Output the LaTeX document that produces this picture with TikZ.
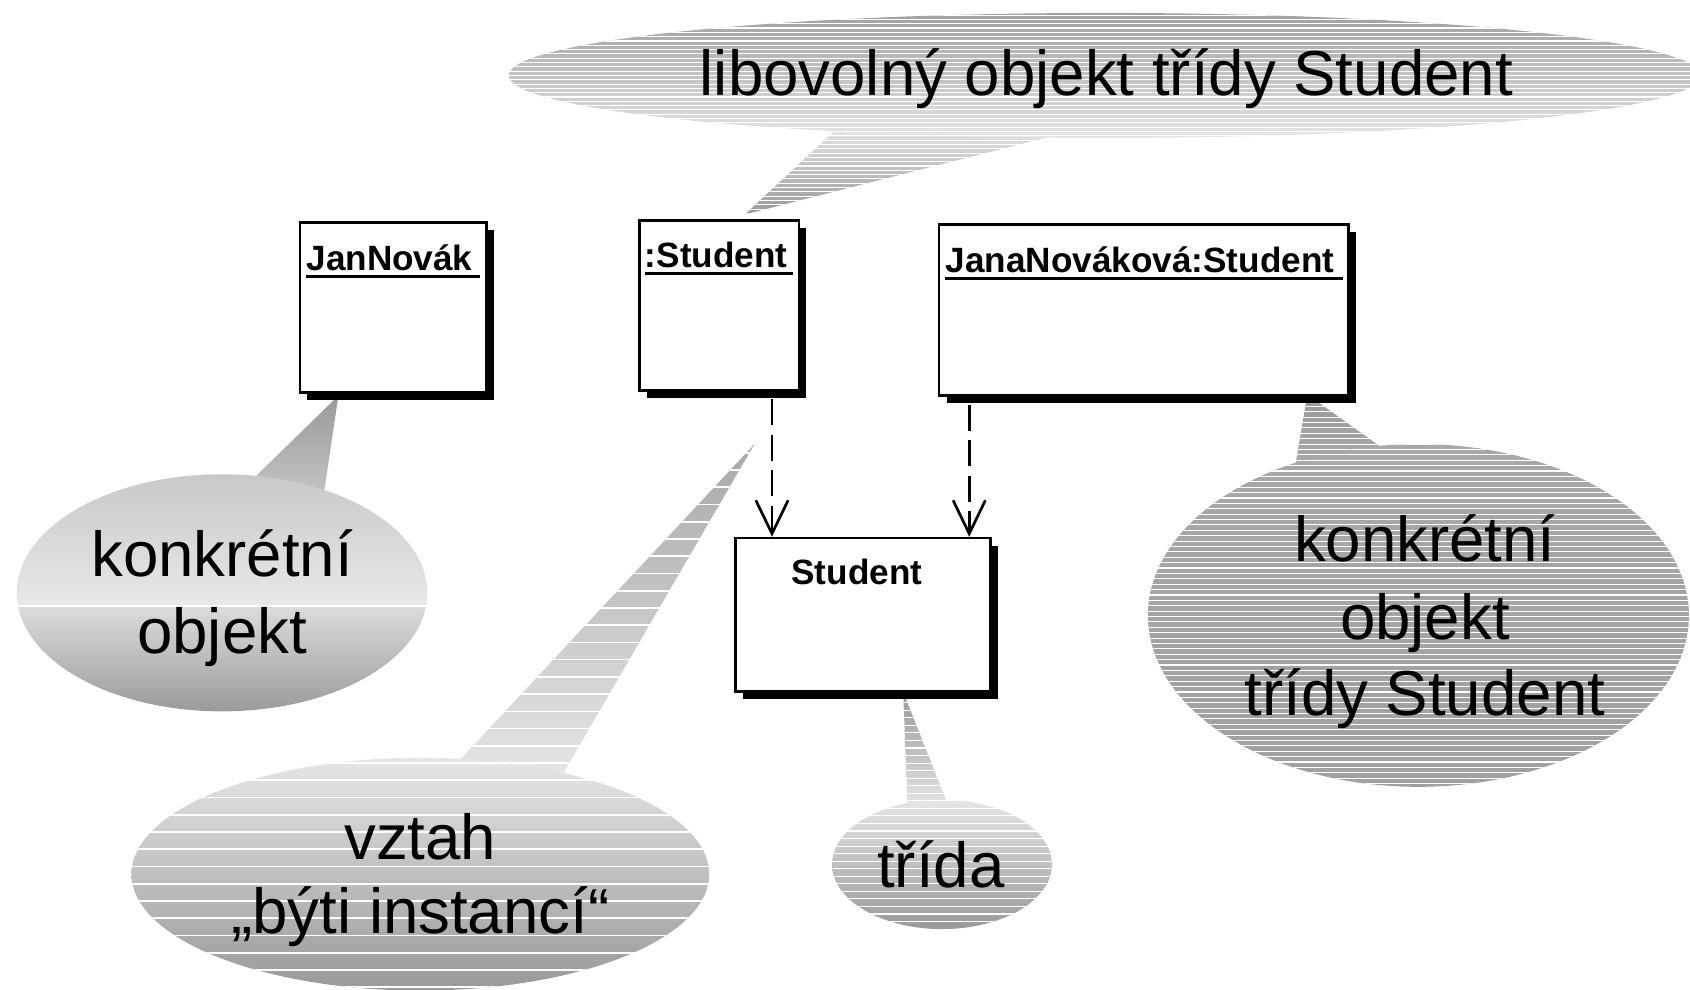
\documentclass[tikz,border=0pt]{standalone}
\usepackage{fontspec}
\setmainfont{Liberation Sans}
\usetikzlibrary{arrows.meta,shadows,calc}
\definecolor{cA}{HTML}{A0A0A0}
\definecolor{cL}{HTML}{E6E6E6}
\definecolor{cD}{HTML}{999999}
\definecolor{cM}{HTML}{C8C8C8}
\definecolor{cT}{HTML}{C4C4C4}
\definecolor{cP}{HTML}{DCDCDC}
\definecolor{cQ}{HTML}{E8E8E8}
\definecolor{cR}{HTML}{ABABAB}
\definecolor{cS}{HTML}{A8A8A8}
\begin{document}
\begin{tikzpicture}[x=0.5pt,y=-0.5pt,
  umlbox/.style={draw=black, line width=1.25pt, fill=white, inner sep=0pt, anchor=north west,
    drop shadow={shadow xshift=3.5pt, shadow yshift=-3.5pt, fill=black, opacity=1}},
  umltext/.style={font=\fontsize{16.3}{19}\selectfont\bfseries, inner sep=0pt},
  uline/.style={line width=1.25pt},
  bigtext/.style={font=\fontsize{29.5}{35.5}\selectfont, inner sep=0pt, anchor=base},
  stripe/.style={white, line width=0.5pt},
  inst/.style={dash pattern=on 12pt off 4.5pt, line width=1.25pt,
    -{Straight Barb[length=15.5pt,width=15pt]}}
]
\useasboundingbox (0,0) rectangle (1568,918);

% ---------- top balloon ----------
\coordinate (tipA) at (691,199);
\shade[top color=cL, bottom color=cD] (778,118) -- (985,124) -- (tipA) -- cycle;
\begin{scope}
  \clip (778,118) -- (985,124) -- (tipA) -- cycle;
  \foreach \yy in {122,126,...,202} \draw[stripe] (680,\yy) -- (990,\yy);
\end{scope}
\shade[top color=cA, bottom color=cL] (1025,70) ellipse [x radius=553, y radius=58];
\begin{scope}
  \clip (1025,70) ellipse [x radius=553, y radius=58];
  \foreach \yy in {14,18,...,130} \draw[stripe] (470,\yy) -- (1580,\yy);
\end{scope}
\node[bigtext] (topt) at (1026.5,89) {libovolný objekt třídy Student};

% ---------- left balloon ----------
\coordinate (tipB) at (314,367);
\shade[top color=cD, bottom color=cT] (232,447) -- (300,461) -- (tipB) -- cycle;
\begin{scope}
  \clip (206,550) ellipse [x radius=190.5, y radius=110];
  \shade[top color=cM, bottom color=cQ] (10,438) rectangle (400,562);
  \shade[top color=cP, bottom color=cD] (10,562) rectangle (400,662);
  \draw[white, line width=1pt] (10,562) -- (400,562);
\end{scope}
\node[bigtext] (lb1) at (206,535) {konkrétní};
\node[bigtext] (lb2) at (206,606) {objekt};

% ---------- right balloon ----------
\coordinate (tipC) at (1213,366);
\shade[top color=cD, bottom color=cR] (1200,442) -- (1290,421) -- (tipC) -- cycle;
\begin{scope}
  \clip (1200,442) -- (1290,421) -- (tipC) -- cycle;
  \foreach \yy in {367,372,...,445} \draw[stripe] (1190,\yy) -- (1300,\yy);
\end{scope}
\shade[top color=cS, middle color=cL, bottom color=cA] (1316,571) ellipse [x radius=251, y radius=159];
\begin{scope}
  \clip (1316,571) ellipse [x radius=251, y radius=159];
  \foreach \yy in {412,417,...,732} \draw[stripe] (1060,\yy) -- (1570,\yy);
\end{scope}
\node[bigtext] (rb1) at (1322,521) {konkrétní};
\node[bigtext] (rb2) at (1322,593) {objekt};
\node[bigtext] (rb3) at (1322,664) {třídy Student};

% ---------- bottom-left balloon ----------
\coordinate (tipD) at (700,412);
\shade[top color=cS, bottom color=cL] (422,710) -- (520,722) -- (tipD) -- cycle;
\begin{scope}
  \clip (422,710) -- (520,722) -- (tipD) -- cycle;
  \foreach \yy in {420,436,...,730} \draw[white, line width=0.8pt] (410,\yy) -- (710,\yy);
\end{scope}
\shade[top color=cL, middle color=cM, bottom color=cD] (390,811) ellipse [x radius=268, y radius=108];
\begin{scope}
  \clip (390,811) ellipse [x radius=268, y radius=108];
  \foreach \yy in {708,724,...,920} \draw[white, line width=0.8pt] (115,\yy) -- (665,\yy);
\end{scope}
\node[bigtext] (vb1) at (390,797) {vztah};
\node[bigtext] (vb2) at (390,866) {„býti instancí“};

% ---------- trida balloon ----------
\coordinate (tipE) at (838,642);
\shade[top color=cD, bottom color=cL] (842,750) -- (880,748) -- (tipE) -- cycle;
\begin{scope}
  \clip (842,750) -- (880,748) -- (tipE) -- cycle;
  \foreach \yy in {645,652,...,755} \draw[stripe] (830,\yy) -- (890,\yy);
\end{scope}
\shade[top color=cL, bottom color=cD] (874,802) ellipse [x radius=102, y radius=60];
\begin{scope}
  \clip (874,802) ellipse [x radius=102, y radius=60];
  \foreach \yy in {743,750,...,865} \draw[stripe] (770,\yy) -- (980,\yy);
\end{scope}
\node[bigtext] (tb) at (873,823) {třída};

% ---------- UML boxes ----------
\node[umlbox, minimum width=86.5pt, minimum height=79pt] (jan) at (277,205) {};
\node[umlbox, minimum width=74pt, minimum height=79pt] (stud) at (592,203) {};
\node[umlbox, minimum width=190pt, minimum height=79.5pt] (jana) at (870,207) {};
\node[umlbox, minimum width=118.5pt, minimum height=71pt] (cls) at (681,498) {};

\node[umltext, anchor=base west] (janl) at (284,251) {JanNovák};
\draw[uline] (284,256.5) -- (445,256.5);
\node[umltext, anchor=base west] (studl) at (598,248) {:Student};
\draw[uline] (598,253.5) -- (736,253.5);
\node[umltext, anchor=base west] (janal) at (877,253) {JanaNováková:Student};
\draw[uline] (877,258.5) -- (1246,258.5);
\node[umltext, anchor=base] (clsl) at (795,542) {Student};

% ---------- instance-of arrows ----------
\coordinate (a1) at ([shift={(49,7)}]stud.south);
\coordinate (a2) at ([shift={(-162,7)}]jana.south);
\draw[inst] (a1) -- (a1 |- cls.north);
\draw[inst] (a2) -- (a2 |- cls.north);
\end{tikzpicture}
\end{document}
